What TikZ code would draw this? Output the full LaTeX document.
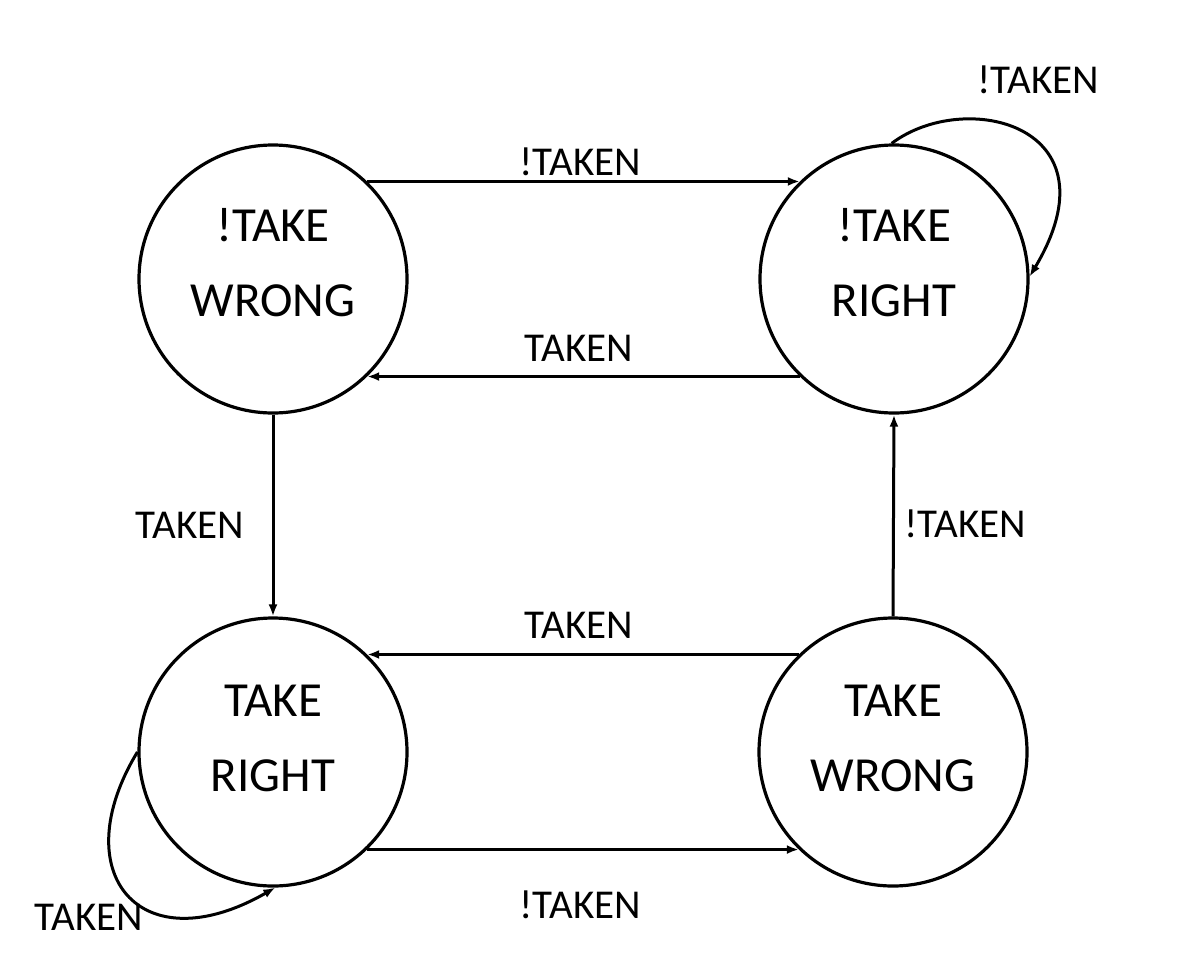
\documentclass[tikz,border=0pt]{standalone}
\usepackage{fontspec}
\setmainfont{Carlito}
\usetikzlibrary{arrows.meta}
\tikzset{
  state/.style={draw, circle, line width=3.2pt, minimum size=268pt, inner sep=0pt},
  stxt/.style={align=center, font=\fontsize{49}{75}\selectfont, inner sep=0pt},
  lbl/.style={font=\fontsize{41}{45}\selectfont, inner sep=0pt, anchor=base},
  arr/.style={line width=3pt, -{Latex[length=12pt,width=9pt]}},
}
\begin{document}
\begin{tikzpicture}[x=1pt,y=-1pt]
\useasboundingbox (0,0) rectangle (1196,977);
\node[state] (tl) at (273,279) {};
\node[state] (tr) at (894,279) {};
\node[state] (bl) at (273,752) {};
\node[state] (br) at (893,752) {};
\node[stxt] (tlt) at (273,263) {!TAKE\\WRONG};
\node[stxt] (trt) at (894,263) {!TAKE\\RIGHT};
\node[stxt] (blt) at (273,738) {TAKE\\RIGHT};
\node[stxt] (brt) at (893,738) {TAKE\\WRONG};

\draw[arr] (tl.46) -- (tr.134);
\draw[arr] (tr.-134) -- (tl.-46);
\draw[arr] (tl.south) -- (bl.north);
\draw[arr] (br.north) -- (tr.south);
\draw[arr] (br.134) -- (bl.46);
\draw[arr] (bl.-46) -- (br.-134);
\draw[arr] (tr.91) .. controls (965,88) and (1120,125) .. (tr.1);
\draw[arr] (bl.180) .. controls (64,873) and (140,965) .. (bl.-89);

\node[lbl] (l1) at (580,175) {!TAKEN};
\node[lbl] (l2) at (579,361) {TAKEN};
\node[lbl] (l3) at (190,538) {TAKEN};
\node[lbl] (l4) at (965,537) {!TAKEN};
\node[lbl] (l5) at (579,638) {TAKEN};
\node[lbl] (l6) at (580,918) {!TAKEN};
\node[lbl] (l7) at (1038,93) {!TAKEN};
\node[lbl] (l8) at (89,930) {TAKEN};
\end{tikzpicture}
\end{document}
